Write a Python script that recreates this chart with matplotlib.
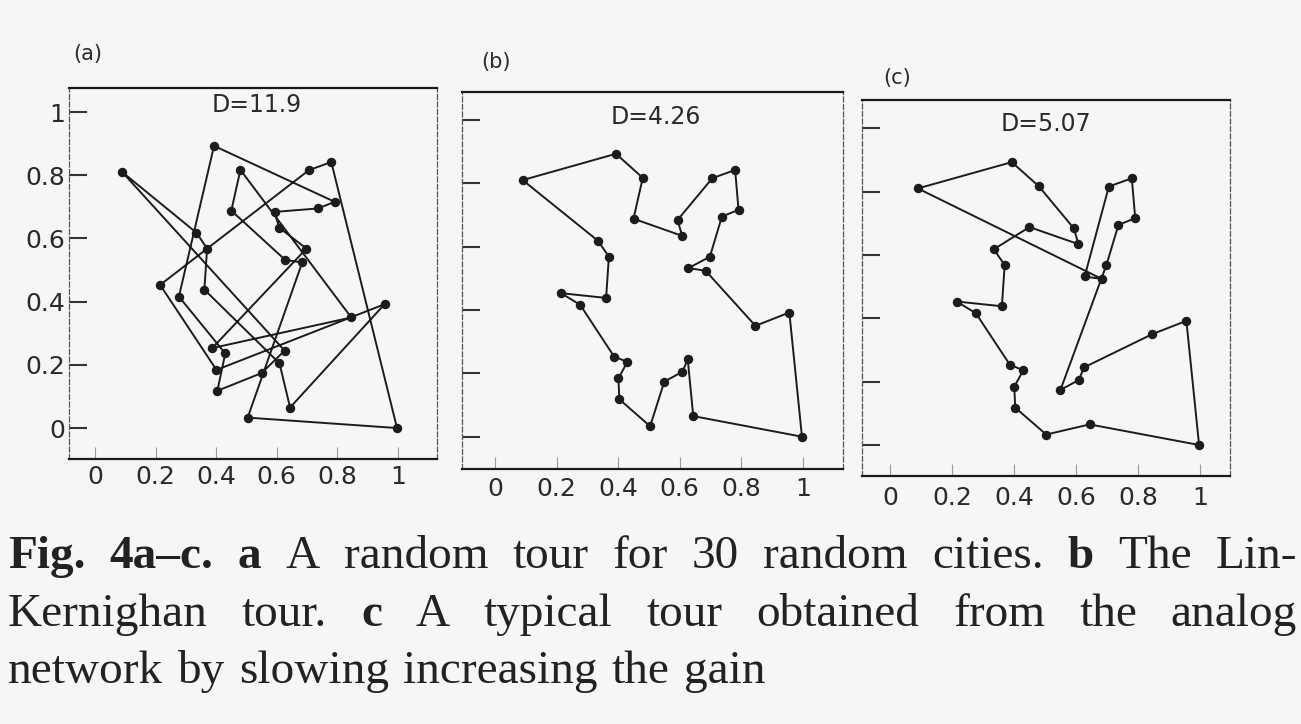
import matplotlib
matplotlib.use("Agg")
import matplotlib.pyplot as plt

# ---- data: 30 city coordinates (shared by all three panels) ----
city_x = [0.090, 0.393, 0.480, 0.450, 0.608, 0.593, 0.706, 0.780, 0.791, 0.737,
          0.698, 0.628, 0.684, 0.846, 0.956, 0.997, 0.644, 0.626, 0.609, 0.550,
          0.504, 0.404, 0.401, 0.430, 0.387, 0.277, 0.215, 0.361, 0.370, 0.335]
city_y = [0.810, 0.893, 0.817, 0.688, 0.634, 0.684, 0.816, 0.842, 0.716, 0.695,
          0.568, 0.532, 0.524, 0.350, 0.392, 0.000, 0.065, 0.245, 0.205, 0.174,
          0.033, 0.118, 0.184, 0.236, 0.253, 0.416, 0.453, 0.438, 0.568, 0.618]

# tour orders (1-based city numbers)
tour_a = [30, 1, 18, 20, 22, 24, 26, 2, 9, 10, 6, 5, 11, 25, 14, 3, 4, 12, 13, 21,
          16, 8, 7, 27, 23, 15, 17, 19, 28, 29]
tour_b = [1, 2, 3, 4, 5, 6, 7, 8, 9, 10, 11, 12, 13, 14, 15, 16, 17, 18, 19, 20,
          21, 22, 23, 24, 25, 26, 27, 28, 29, 30]
tour_c = [1, 2, 3, 6, 5, 4, 30, 29, 28, 27, 26, 25, 24, 23, 22, 21, 17, 16, 15, 14,
          18, 19, 20, 11, 10, 9, 8, 7, 12, 13]

tour_lengths = ["D=11.9", "D=4.26", "D=5.07"]
panel_labels = ["(a)", "(b)", "(c)"]
tick_vals = [0, 0.2, 0.4, 0.6, 0.8, 1]
tick_labels = ["0", "0.2", "0.4", "0.6", "0.8", "1"]

caption_line1 = [("Fig.", True), ("4a–c.", True), ("a", True), ("A", False), ("random", False),
                 ("tour", False), ("for", False), ("30", False), ("random", False),
                 ("cities.", False), ("b", True), ("The", False), ("Lin-", False)]
caption_line2 = [("Kernighan", False), ("tour.", False), ("c", True), ("A", False),
                 ("typical", False), ("tour", False), ("obtained", False), ("from", False),
                 ("the", False), ("analog", False)]
caption_line3 = [("network", False), ("by", False), ("slowing", False), ("increasing", False),
                 ("the", False), ("gain", False)]

# ---- layout ----
W, H = 1301, 724
BG = "#f6f6f4"
INK = "#1c1c1c"
fig = plt.figure(figsize=(W / 100, H / 100), dpi=100, facecolor=BG)

rects = [[0.0530, 0.3660, 0.2829, 0.5124],
         [0.3551, 0.3522, 0.2928, 0.5207],
         [0.6626, 0.3425, 0.2829, 0.5193]]
xlims = [(-0.086, 1.129), (-0.107, 1.130), (-0.090, 1.097)]
ylims = [(-0.098, 1.076), (-0.102, 1.088), (-0.098, 1.089)]
xpads = [4, 6, 7]
tours = [tour_a, tour_b, tour_c]
dpos = [(0.51, 0.955), (0.51, 0.935), (0.50, 0.935)]
lab_pos = [(88, 54), (496, 62), (897, 78)]

for i in range(3):
    ax = fig.add_axes(rects[i])
    ax.set_facecolor("none")
    t = tours[i] + [tours[i][0]]
    xs = [city_x[k - 1] for k in t]
    ys = [city_y[k - 1] for k in t]
    ax.plot(xs, ys, "-", color=INK, lw=1.4, solid_capstyle="round", zorder=2)
    ax.plot(city_x, city_y, "o", color=INK, ms=5.8, zorder=3)
    ax.set_xlim(*xlims[i])
    ax.set_ylim(*ylims[i])
    ax.set_xticks(tick_vals)
    ax.set_xticklabels(tick_labels)
    ax.set_yticks(tick_vals)
    if i == 0:
        ax.set_yticklabels(tick_labels)
    else:
        ax.set_yticklabels([])
    ax.tick_params(axis="y", direction="in", length=13, width=1.5, color="#333333",
                   labelsize=18, pad=3, labelcolor="#2a2a2a")
    ax.tick_params(axis="x", direction="in", length=9, width=0.8, color="#9a9a9a",
                   labelsize=18, pad=xpads[i], labelcolor="#2a2a2a")
    for s in ("top", "bottom"):
        ax.spines[s].set_linewidth(1.6)
        ax.spines[s].set_color("#1a1a1a")
    for s in ("left", "right"):
        ax.spines[s].set_linewidth(0.9)
        ax.spines[s].set_color("#555555")
        ax.spines[s].set_linestyle((0, (4, 2)))
    ax.text(dpos[i][0], dpos[i][1], tour_lengths[i], transform=ax.transAxes,
            ha="center", va="center", fontsize=17, color="#2a2a2a")
    fig.text(lab_pos[i][0] / W, 1 - lab_pos[i][1] / H, panel_labels[i],
             ha="center", va="center", fontsize=15, color="#2a2a2a")

# ---- caption (justified lines) ----
renderer = fig.canvas.get_renderer()


def caption_line(words, base_px, x0, x1, size, justify=True):
    objs = []
    for w, bold in words:
        t = fig.text(0, 1 - base_px / H, w, fontsize=size, family="Liberation Serif",
                     fontweight="bold" if bold else "normal", va="baseline",
                     ha="left", color="#222222")
        objs.append(t)
    widths = [o.get_window_extent(renderer).width for o in objs]
    if justify:
        gap = (x1 - x0 - sum(widths)) / (len(objs) - 1)
    else:
        gap = size * 100 / 72 * 0.30
    x = x0
    for o, wd in zip(objs, widths):
        o.set_x(x / W)
        x += wd + gap


caption_line(caption_line1, 568, 8, 1297, 34)
caption_line(caption_line2, 626, 8, 1297, 34)
caption_line(caption_line3, 683, 8, 0, 34, justify=False)

fig.savefig("out.png", dpi=100, facecolor=BG)
